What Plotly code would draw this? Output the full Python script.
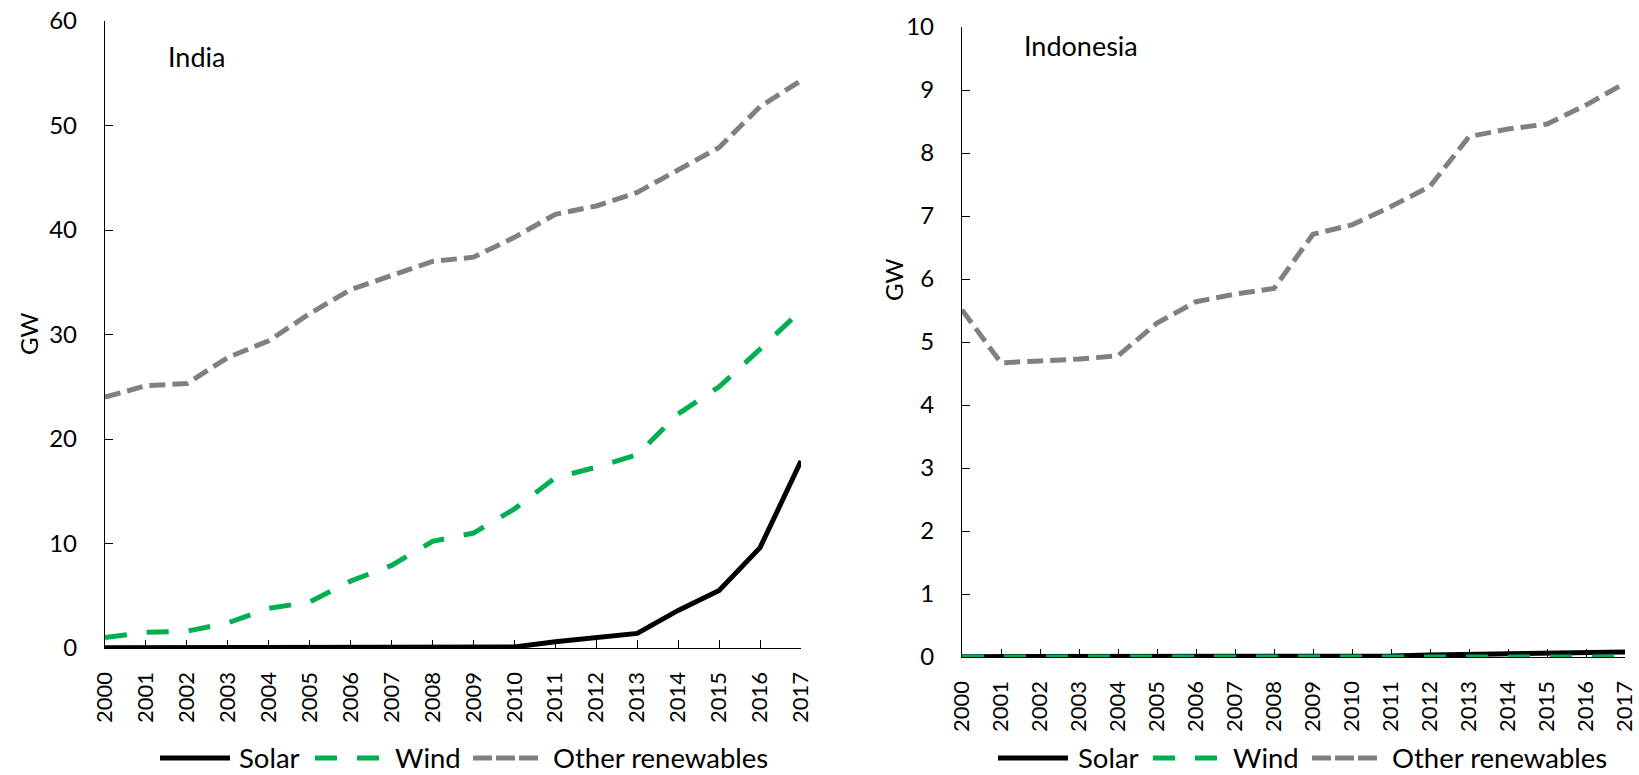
import plotly.graph_objects as go

# Installed capacity (GW), 2000-2017
years = list(range(2000, 2018))
year_labels = [str(y) for y in years]

india_solar = [0.02, 0.02, 0.02, 0.02, 0.02, 0.03, 0.03, 0.03, 0.05, 0.06, 0.1,
               0.6, 1.0, 1.4, 3.6, 5.5, 9.6, 17.9]
india_wind = [1.0, 1.5, 1.6, 2.4, 3.8, 4.4, 6.4, 7.9, 10.2, 11.0, 13.3,
              16.3, 17.3, 18.5, 22.4, 25.0, 28.6, 32.3]
india_other = [24.0, 25.1, 25.3, 27.8, 29.4, 32.0, 34.3, 35.7, 37.0, 37.4, 39.3,
               41.5, 42.3, 43.6, 45.8, 47.9, 51.8, 54.3]

indonesia_solar = [0.005, 0.005, 0.005, 0.005, 0.005, 0.005, 0.01, 0.01, 0.01, 0.01, 0.01,
                   0.015, 0.03, 0.04, 0.05, 0.06, 0.07, 0.08]
indonesia_wind = [0.0, 0.0, 0.0, 0.0, 0.0, 0.0, 0.0, 0.0, 0.0, 0.0, 0.0,
                  0.0, 0.0, 0.001, 0.001, 0.001, 0.001, 0.001]
indonesia_other = [5.51, 4.67, 4.70, 4.73, 4.78, 5.30, 5.64, 5.76, 5.85, 6.71, 6.86,
                   7.15, 7.47, 8.26, 8.38, 8.46, 8.76, 9.11]

series_names = ["Solar", "Wind", "Other renewables"]
panel_titles = ["India", "Indonesia"]

W, H = 1639, 775
FONT = "Lato"
BLACK = "#000000"
GREEN = "#00B050"
GREY = "#808080"

line_styles = {
    "Solar": dict(color=BLACK, width=5, dash="solid"),
    "Wind": dict(color=GREEN, width=5, dash="22px,20px"),
    "Other renewables": dict(color=GREY, width=5, dash="16px,7px"),
}
legend_styles = {
    "Solar": dict(color=BLACK, width=5, dash="solid"),
    "Wind": dict(color=GREEN, width=5, dash="22px,20px"),
    "Other renewables": dict(color=GREY, width=5, dash="19px,4px"),
}


def px_x(v):
    return v / W


def px_y(v):
    return 1 - v / H


fig = go.Figure()

panels = [
    ("x", "y", [india_solar, india_wind, india_other]),
    ("x2", "y2", [indonesia_solar, indonesia_wind, indonesia_other]),
]
for xa, ya, data in panels:
    for name, vals in zip(series_names, data):
        fig.add_trace(go.Scatter(
            x=years, y=vals, mode="lines", name=name,
            line=line_styles[name], xaxis=xa, yaxis=ya,
            showlegend=False, cliponaxis=False,
        ))

axis_common = dict(
    showline=True, linecolor=BLACK, linewidth=1.3,
    ticks="inside", ticklen=8, tickwidth=1.3, tickcolor=BLACK,
    showgrid=False, zeroline=False, layer="below traces", automargin=False,
)
xaxis_common = dict(
    axis_common, range=[2000, 2017], tickmode="array",
    tickvals=years, ticktext=year_labels, tickangle=-90,
    tickfont=dict(family=FONT, size=22, color=BLACK), ticklabelstandoff=14,
)
yaxis_common = dict(
    axis_common, tickfont=dict(family=FONT, size=24, color=BLACK),
    ticklabelstandoff=22,
)

fig.update_layout(
    template="none",
    width=W, height=H,
    margin=dict(l=0, r=0, t=0, b=0),
    paper_bgcolor="white", plot_bgcolor="white",
    showlegend=False,
    font=dict(family=FONT, color=BLACK),
    xaxis=dict(xaxis_common, domain=[px_x(105), px_x(801)], anchor="y"),
    yaxis=dict(yaxis_common, domain=[px_y(648), px_y(21)], anchor="x",
               range=[0, 60], tickvals=[0, 10, 20, 30, 40, 50, 60]),
    xaxis2=dict(xaxis_common, domain=[px_x(962), px_x(1625)], anchor="y2"),
    yaxis2=dict(yaxis_common, domain=[px_y(657), px_y(27)], anchor="x2",
                range=[0, 10], tickvals=list(range(0, 11))),
)

annotations = [
    dict(text="GW", x=px_x(29), y=px_y(334), textangle=-90),
    dict(text="GW", x=px_x(893), y=px_y(280), textangle=-90),
    dict(text=panel_titles[0], x=px_x(166), y=px_y(57), xanchor="left", font=dict(size=27)),
    dict(text=panel_titles[1], x=px_x(1022), y=px_y(45), xanchor="left", font=dict(size=27)),
]

# Legend rows below each panel: sample line + label
legend_rows = [
    [(160, 230, 237), (315, 380, 393), (473, 538, 551)],
    [(998, 1068, 1076), (1153, 1218, 1231), (1312, 1377, 1390)],
]
legend_y = 758
shapes = []
for row in legend_rows:
    for name, (x0, x1, tx) in zip(series_names, row):
        shapes.append(dict(type="line", xref="paper", yref="paper",
                           x0=px_x(x0), x1=px_x(x1), y0=px_y(legend_y), y1=px_y(legend_y),
                           line=legend_styles[name]))
        annotations.append(dict(text=name, x=px_x(tx), y=px_y(legend_y - 1),
                                xanchor="left", font=dict(size=27.5)))

for a in annotations:
    a.setdefault("xref", "paper")
    a.setdefault("yref", "paper")
    a.setdefault("showarrow", False)
    a.setdefault("xanchor", "center")
    a.setdefault("yanchor", "middle")
    a.setdefault("font", dict(size=24))
    a["font"] = dict(a["font"], family=FONT, color=BLACK)

fig.update_layout(annotations=annotations, shapes=shapes)

fig.write_html("out.html")
